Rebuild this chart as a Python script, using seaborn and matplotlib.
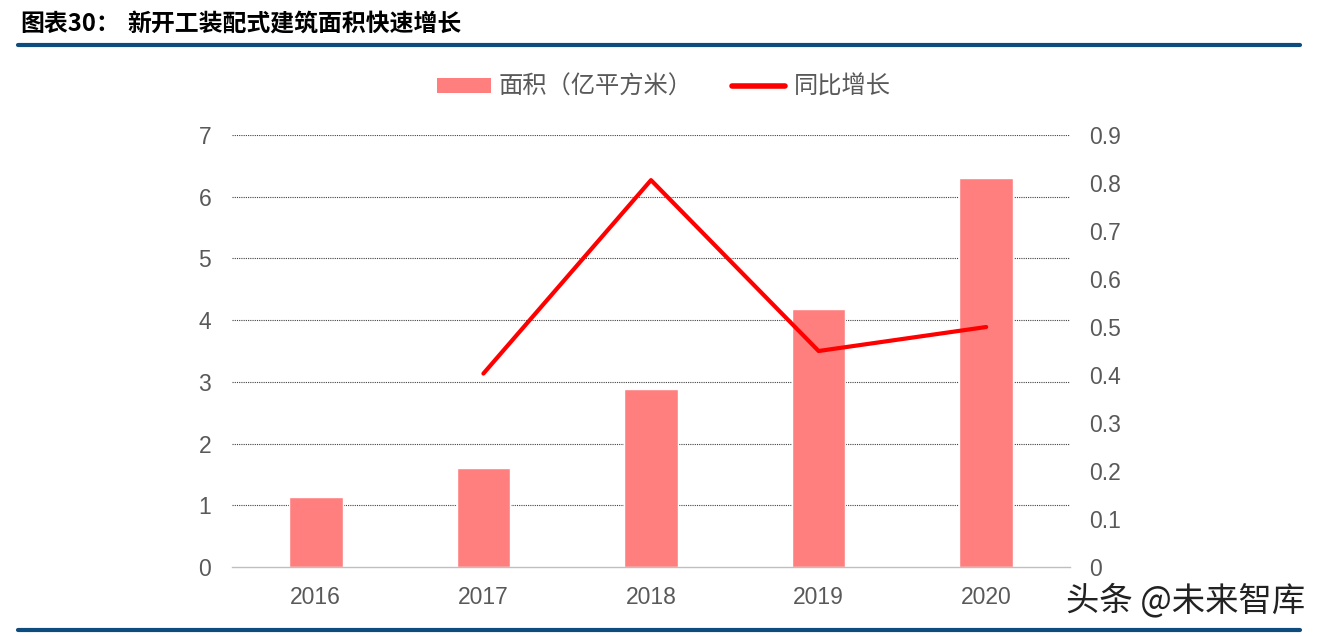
import matplotlib
matplotlib.use("Agg")
import matplotlib.pyplot as plt
import seaborn as sns
import pandas as pd
import numpy as np
from matplotlib.patches import Patch
from matplotlib.lines import Line2D

years = ["2016", "2017", "2018", "2019", "2020"]
area = [1.14, 1.60, 2.89, 4.18, 6.30]
growth = [np.nan, 0.403, 0.806, 0.450, 0.500]
left_ticks = [0, 1, 2, 3, 4, 5, 6, 7]
right_ticks = [0, 0.1, 0.2, 0.3, 0.4, 0.5, 0.6, 0.7, 0.8, 0.9]
title_a = "图表30："
title_b = "新开工装配式建筑面积快速增长"
legend_bar = "面积（亿平方米）"
legend_line = "同比增长"
watermark = "头条 @未来智库"

sns.set_theme(style="white")
plt.rcParams['font.family'] = ['Liberation Sans', 'Noto Sans CJK SC', 'DejaVu Sans']

BAR = "#FF7F7F"
LINE = "#FF0000"
TXT = "#595959"

fig = plt.figure(figsize=(13.22, 6.36), dpi=100)
ax = fig.add_axes([232/1322, 1-567/636, (1070-232)/1322, (567-135)/636])

df = pd.DataFrame({"year": years, "area": area})
sns.barplot(data=df, x="year", y="area", order=years, color=BAR, width=0.32,
            saturation=1, ax=ax)
ax.set_xlim(-0.5, 4.5)
ax.set_ylim(0, 7)
ax.set_yticks(left_ticks)
ax.set_yticklabels([str(t) for t in left_ticks])
ax.set_xlabel("")
ax.set_ylabel("")
for t in left_ticks[1:]:
    ax.axhline(t, color="#404040", lw=0.8, ls=(0, (1, 1)), zorder=0)
ax.set_axisbelow(True)
for s in ["top", "right", "left"]:
    ax.spines[s].set_visible(False)
ax.spines["bottom"].set_color("#BFBFBF")
ax.spines["bottom"].set_linewidth(1.0)
ax.tick_params(axis="both", length=0, labelsize=16.5, labelcolor=TXT)
ax.tick_params(axis="y", pad=15)
ax.tick_params(axis="x", pad=14)

ax2 = ax.twinx()
gdf = pd.DataFrame({"pos": np.arange(len(years)), "growth": growth}).dropna()
sns.lineplot(data=gdf, x="pos", y="growth", color=LINE, lw=3, ax=ax2)
ax2.set_ylim(0, 0.9)
ax2.set_xlim(-0.5, 4.5)
ax2.set_yticks(right_ticks)
ax2.set_yticklabels(["0"] + [f"{t:.1f}" for t in right_ticks[1:]])
ax2.set_xlabel("")
ax2.set_ylabel("")
for s in ["top", "right", "left", "bottom"]:
    ax2.spines[s].set_visible(False)
ax2.tick_params(axis="y", length=0, labelsize=16.5, labelcolor=TXT, pad=14)
ax2.grid(False)

handles = [Patch(facecolor=BAR, edgecolor="none"),
           Line2D([0], [0], color=LINE, lw=4, solid_capstyle="round")]
fig.legend(handles, [legend_bar, legend_line], loc="center",
           bbox_to_anchor=(664/1322, 1-87/636), ncol=2, frameon=False,
           labelcolor=TXT, handlelength=2.2, handleheight=0.6,
           columnspacing=1.6, handletextpad=0.35,
           prop={'family': ['Noto Sans CJK SC'], 'size': 17.5})

fig.text(20/1322, 1-24/636, title_a, fontsize=17.2, fontweight="bold",
         family=['Noto Sans CJK SC'], va="center", ha="left", color="black")
fig.text(127/1322, 1-24/636, title_b, fontsize=17.2, fontweight="bold",
         family=['Noto Sans CJK SC'], va="center", ha="left", color="black")
fig.add_artist(Line2D([18/1322, 1300/1322], [1-45/636, 1-45/636],
                      color="#0F4C7E", lw=3, transform=fig.transFigure))
fig.add_artist(Line2D([18/1322, 1300/1322], [1-630/636, 1-630/636],
                      color="#0F4C7E", lw=3, transform=fig.transFigure))
fig.text(1305/1322, 1-601/636, watermark, fontsize=24,
         family=['Noto Sans CJK SC'], va="center", ha="right", color="#222222")

fig.savefig("out.png", dpi=100)
